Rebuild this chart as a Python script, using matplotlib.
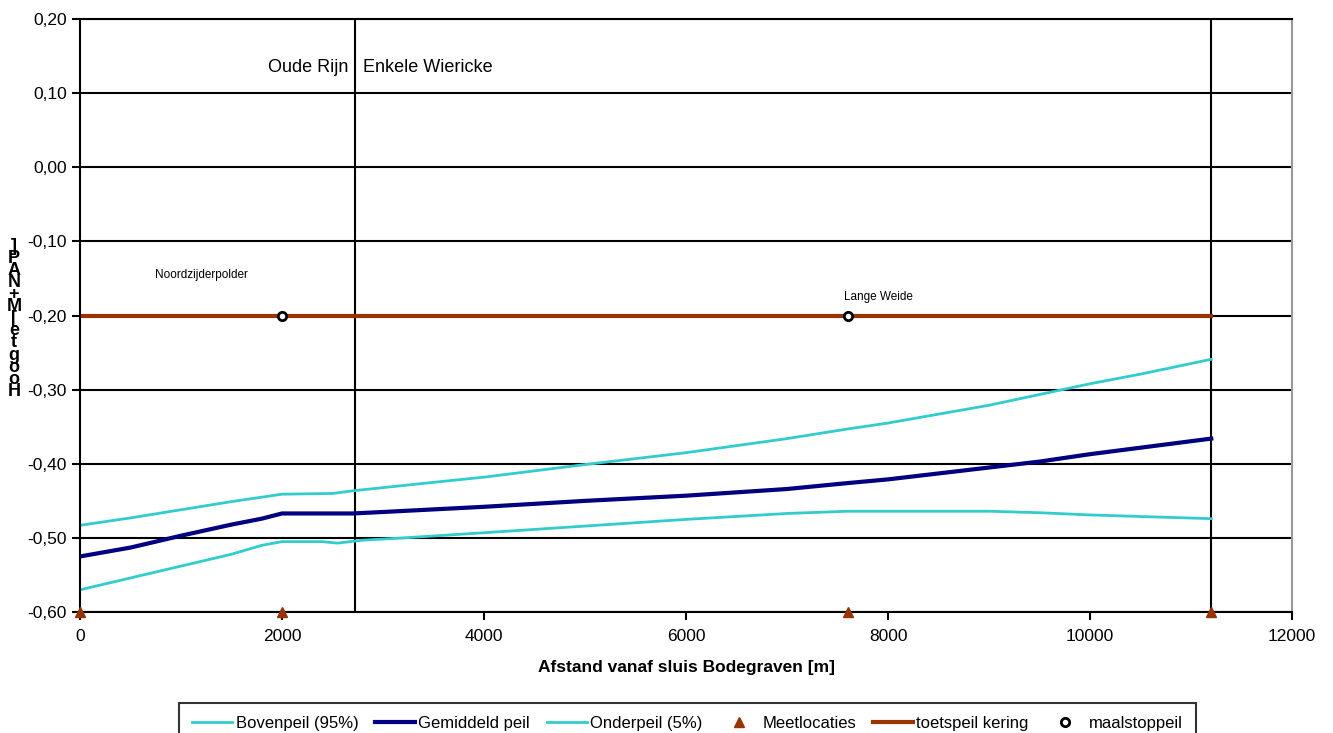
import numpy as np
import matplotlib
matplotlib.use("Agg")
import matplotlib.pyplot as plt
from matplotlib.ticker import FuncFormatter

# data
x_boven = [0, 500, 1000, 1500, 2000, 2500, 2730, 3500, 4000, 5000, 6000, 7000, 7600, 8000, 9000, 10000, 10500, 11200]
y_boven = [-0.483, -0.473, -0.462, -0.451, -0.441, -0.440, -0.436, -0.425, -0.418, -0.401, -0.385, -0.366, -0.353, -0.345, -0.321, -0.292, -0.279, -0.259]

x_gem = [0, 500, 1000, 1500, 1800, 2000, 2700, 3000, 4000, 5000, 6000, 7000, 7600, 8000, 9000, 9500, 10000, 11200]
y_gem = [-0.525, -0.513, -0.497, -0.482, -0.474, -0.467, -0.467, -0.465, -0.458, -0.450, -0.443, -0.434, -0.426, -0.421, -0.405, -0.397, -0.387, -0.366]

x_onder = [0, 500, 1000, 1500, 1800, 2000, 2400, 2550, 2800, 3200, 4000, 5000, 6000, 7000, 7600, 8000, 9000, 9500, 10000, 11200]
y_onder = [-0.570, -0.554, -0.538, -0.522, -0.510, -0.505, -0.505, -0.507, -0.503, -0.500, -0.493, -0.484, -0.475, -0.467, -0.464, -0.464, -0.464, -0.466, -0.469, -0.474]

x_meet = [0, 2000, 7600, 11200]
y_meet = [-0.60, -0.60, -0.60, -0.60]

x_toets = [0, 11200]
y_toets = [-0.20, -0.20]

x_maal = [2000, 7600]
y_maal = [-0.20, -0.20]
maal_names = ["Noordzijderpolder", "Lange Weide"]

x_grens = [2720, 11200]

plt.rcParams['font.family'] = ['Liberation Sans', 'DejaVu Sans']
plt.rcParams['font.size'] = 12.5

fig = plt.figure(figsize=(13.33, 7.33), dpi=100)
ax = fig.add_axes([0.06, 0.165, 0.9093, 0.809])

ax.plot(x_boven, y_boven, color='#33cccc', linewidth=2, label='Bovenpeil (95%)')
ax.plot(x_gem, y_gem, color='#000080', linewidth=3, label='Gemiddeld peil')
ax.plot(x_onder, y_onder, color='#33cccc', linewidth=2, label='Onderpeil (5%)')
ax.plot(x_meet, y_meet, linestyle='none', marker='^', color='#993300', markersize=7,
        clip_on=False, zorder=5, label='Meetlocaties')
ax.plot(x_toets, y_toets, color='#993300', linewidth=3, label='toetspeil kering')
ax.plot(x_maal, y_maal, linestyle='none', marker='o', markerfacecolor='white',
        markeredgecolor='black', markeredgewidth=2, markersize=6, zorder=6, label='maalstoppeil')

for xv in x_grens:
    ax.axvline(xv, color='black', linewidth=1.5, zorder=1)

ax.text(2660, 0.135, 'Oude Rijn', ha='right', va='center', fontsize=13)
ax.text(2800, 0.135, 'Enkele Wiericke', ha='left', va='center', fontsize=13)
ax.text(1200, -0.145, maal_names[0], ha='center', va='center', fontsize=8.5)
ax.text(7900, -0.175, maal_names[1], ha='center', va='center', fontsize=8.5)

ax.set_xlim(0, 12000)
ax.set_ylim(-0.60, 0.20)
ax.set_xticks(np.arange(0, 12001, 2000))
ax.set_yticks(np.arange(-0.6, 0.201, 0.1))
ax.yaxis.set_major_formatter(FuncFormatter(lambda v, p: ('%.2f' % v).replace('.', ',').replace('-0,00', '0,00')))
ax.grid(axis='y', color='black', linewidth=1.5)
ax.set_axisbelow(True)
ax.tick_params(direction='out', length=6, width=1.5, colors='black')
ax.tick_params(axis='x', pad=6)
for s in ['left', 'bottom', 'top']:
    ax.spines[s].set_linewidth(1.5)
ax.spines['right'].set_color('#999999')
ax.spines['right'].set_linewidth(1.5)

ax.set_xlabel('Afstand vanaf sluis Bodegraven [m]', fontweight='bold', fontsize=12.5, labelpad=12)

# stacked y label as in the original
fig.text(0.0105, 0.565, '\n'.join(reversed('Hoogte[M+NAP]')), ha='center', va='center',
         fontweight='bold', fontsize=13, linespacing=0.62)

leg = fig.legend(loc='upper left', bbox_to_anchor=(0.1343, 0.041), borderaxespad=0,
                 ncol=6, frameon=True, fancybox=False, edgecolor='black', fontsize=12,
                 handlelength=2.4, handletextpad=0.2, columnspacing=1.0, borderpad=0.8)
leg.get_frame().set_linewidth(1.5)

fig.savefig('out.png', dpi=100)
